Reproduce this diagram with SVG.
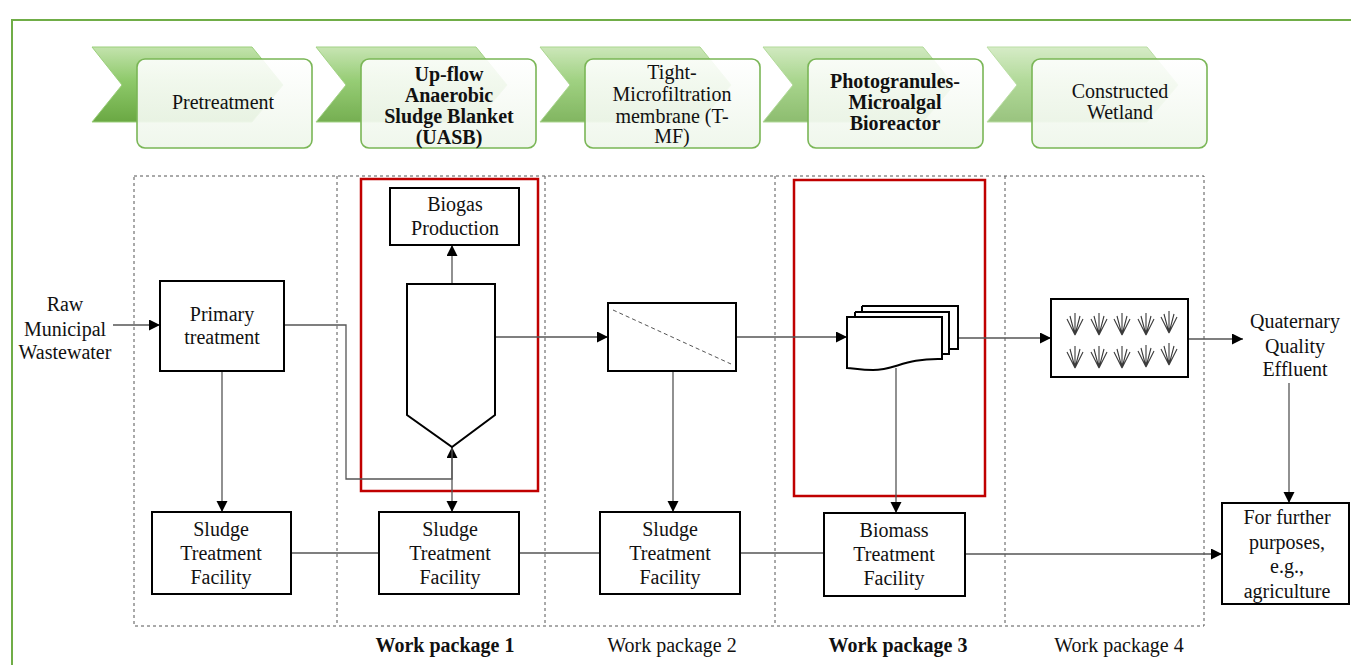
<svg xmlns="http://www.w3.org/2000/svg" width="1351" height="665" viewBox="0 0 1351 665" font-family="'Liberation Serif','Times New Roman',serif">
<defs>
<linearGradient id="chev" x1="0" y1="0" x2="0" y2="1">
<stop offset="0" stop-color="#c3e3ad"/>
<stop offset="0.45" stop-color="#8ec96a"/>
<stop offset="1" stop-color="#6aa843"/>
</linearGradient>
<linearGradient id="boxg" x1="0" y1="0" x2="0" y2="1">
<stop offset="0" stop-color="#ffffff" stop-opacity="0.9"/>
<stop offset="1" stop-color="#eef6ea" stop-opacity="0.93"/>
</linearGradient>
<marker id="arr" markerUnits="userSpaceOnUse" markerWidth="12" markerHeight="12" refX="11" refY="5.5" orient="auto">
<path d="M0,0 L11,5.5 L0,11 z" fill="#000"/>
</marker>
<g id="grass" fill="none" stroke="#3a3a3a" stroke-width="1.1">
<path d="M0,0 V-22 M0,0 L-8,-16 M0,0 L-5,-19 M0,0 L8,-16 M0,0 L5,-19"/>
</g>
</defs>
<style>
text{font-family:"Liberation Serif","Times New Roman",serif;font-size:20px;fill:#111;text-anchor:middle}
.b{font-weight:bold}
.box{fill:#fff;stroke:#000;stroke-width:2}
.stage{fill:url(#boxg);stroke:#7ab656;stroke-width:1.6}
.chev{fill:url(#chev);stroke:#9bcf7b;stroke-width:1}
.dash{fill:none;stroke:#555;stroke-width:1;stroke-dasharray:3,3}
.red{fill:none;stroke:#c00000;stroke-width:2.5}
.con{fill:none;stroke:#555;stroke-width:1.3}
.arr{marker-end:url(#arr)}
</style>

<!-- frame -->
<path d="M12,665 V20 H1351" fill="none" stroke="#70ad47" stroke-width="2"/>

<!-- stage chevrons -->
<g id="stage1">
<polygon class="chev" points="92,47 252,47 283,85 252,122 92,122 122,85"/>
<rect class="stage" x="137" y="59" width="175" height="89" rx="8"/>
<text x="223" y="109">Pretreatment</text>
</g>
<g id="stage2">
<polygon class="chev" opacity="0.92" points="316,47 476,47 507,85 476,122 316,122 346,85"/>
<rect class="stage" x="361" y="59" width="175" height="89" rx="8"/>
<text class="b" x="449" y="81">Up-flow</text>
<text class="b" x="449" y="102">Anaerobic</text>
<text class="b" x="449" y="123">Sludge Blanket</text>
<text class="b" x="449" y="144">(UASB)</text>
</g>
<g id="stage3">
<polygon class="chev" opacity="0.84" points="540,47 700,47 731,85 700,122 540,122 570,85"/>
<rect class="stage" x="585" y="59" width="175" height="89" rx="8"/>
<text x="672" y="79">Tight-</text>
<text x="672" y="101">Microfiltration</text>
<text x="672" y="123">membrane (T-</text>
<text x="672" y="143">MF)</text>
</g>
<g id="stage4">
<polygon class="chev" opacity="0.76" points="763,47 923,47 954,85 923,122 763,122 793,85"/>
<rect class="stage" x="808" y="59" width="175" height="89" rx="8"/>
<text class="b" x="895" y="88">Photogranules-</text>
<text class="b" x="895" y="109">Microalgal</text>
<text class="b" x="895" y="130">Bioreactor</text>
</g>
<g id="stage5">
<polygon class="chev" opacity="0.68" points="987,47 1147,47 1178,85 1147,122 987,122 1017,85"/>
<rect class="stage" x="1032" y="59" width="175" height="89" rx="8"/>
<text x="1120" y="98">Constructed</text>
<text x="1120" y="119">Wetland</text>
</g>

<!-- work package frames -->
<g id="packages">
<rect class="dash" x="134" y="176" width="1070" height="450"/>
<line class="dash" x1="337" y1="176" x2="337" y2="626"/>
<line class="dash" x1="545" y1="176" x2="545" y2="626"/>
<line class="dash" x1="775" y1="176" x2="775" y2="626"/>
<line class="dash" x1="1005" y1="176" x2="1005" y2="626"/>
<text class="b" x="445" y="652">Work package 1</text>
<text x="672" y="652">Work package 2</text>
<text class="b" x="898" y="652">Work package 3</text>
<text x="1119" y="652">Work package 4</text>
</g>

<!-- red highlight boxes -->
<rect class="red" x="361" y="179" width="177" height="312"/>
<rect class="red" x="794" y="180" width="191" height="316"/>

<!-- connectors -->
<g id="connectors">
<path class="con arr" d="M113,325 H160"/>
<path class="con arr" d="M284,325 H346 V479 H452 V447"/>
<path class="con arr" d="M452,447 V512"/>
<path class="con arr" d="M452,284 V245"/>
<path class="con arr" d="M495,337 H608"/>
<path class="con arr" d="M736,337 H847"/>
<path class="con arr" d="M958,338 H1051"/>
<path class="con arr" d="M1188,339 H1243"/>
<path class="con arr" d="M1289,383 V503"/>
<path class="con arr" d="M222,371 V512"/>
<path class="con arr" d="M673,371 V512"/>
<path class="con arr" d="M896,368 V513"/>
<path class="con" d="M291,553 H379"/>
<path class="con" d="M519,553 H600"/>
<path class="con" d="M740,553 H824"/>
<path class="con arr" d="M965,554 H1222"/>
</g>

<!-- nodes -->
<g id="raw">
<text x="65" y="311">Raw</text>
<text x="65" y="336">Municipal</text>
<text x="65" y="359">Wastewater</text>
</g>
<g id="primary">
<rect class="box" x="160" y="281" width="124" height="90"/>
<text x="222" y="321">Primary</text>
<text x="222" y="344">treatment</text>
</g>
<g id="biogas">
<rect class="box" x="390" y="188" width="129" height="57"/>
<text x="455" y="211">Biogas</text>
<text x="455" y="235">Production</text>
</g>
<g id="uasb">
<path d="M407,284 H495 V415 L452,447 L407,415 Z" fill="#fff" stroke="#000" stroke-width="2"/>
</g>
<g id="filter">
<rect class="box" x="608" y="303" width="128" height="68"/>
<line x1="613" y1="310" x2="731" y2="364" stroke="#555" stroke-width="1" stroke-dasharray="4,3"/>
</g>
<g id="photobioreactor">
<path d="M862,306 H958 V349 H949" fill="#fff" stroke="#000" stroke-width="2"/>
<path d="M862,306 V312" fill="none" stroke="#000" stroke-width="2"/>
<path d="M855,312 H949 V354 H942 M855,312 V317" fill="#fff" stroke="#000" stroke-width="2"/>
<path d="M847,317 H942 V359 C905,358 895,370 873,370 C860,370 853,368 847,368 Z" fill="#fff" stroke="#000" stroke-width="2"/>
</g>
<g id="wetland">
<rect class="box" x="1051" y="299" width="137" height="78"/>
<use href="#grass" x="1075" y="335"/>
<use href="#grass" x="1099" y="335"/>
<use href="#grass" x="1122" y="335"/>
<use href="#grass" x="1146" y="335"/>
<use href="#grass" x="1169" y="333"/>
<use href="#grass" x="1075" y="368"/>
<use href="#grass" x="1099" y="368"/>
<use href="#grass" x="1122" y="368"/>
<use href="#grass" x="1146" y="367"/>
<use href="#grass" x="1169" y="365"/>
</g>
<g id="effluent">
<text x="1295" y="328">Quaternary</text>
<text x="1295" y="353">Quality</text>
<text x="1295" y="376">Effluent</text>
</g>
<g id="further">
<rect class="box" x="1222" y="503" width="127" height="101"/>
<text x="1287" y="524">For further</text>
<text x="1287" y="549">purposes,</text>
<text x="1287" y="573">e.g.,</text>
<text x="1287" y="598">agriculture</text>
</g>
<g id="sludge1">
<rect class="box" x="152" y="512" width="139" height="82"/>
<text x="221" y="536">Sludge</text>
<text x="221" y="560">Treatment</text>
<text x="221" y="584">Facility</text>
</g>
<g id="sludge2">
<rect class="box" x="379" y="512" width="140" height="82"/>
<text x="450" y="536">Sludge</text>
<text x="450" y="560">Treatment</text>
<text x="450" y="584">Facility</text>
</g>
<g id="sludge3">
<rect class="box" x="600" y="512" width="140" height="82"/>
<text x="670" y="536">Sludge</text>
<text x="670" y="560">Treatment</text>
<text x="670" y="584">Facility</text>
</g>
<g id="biomass">
<rect class="box" x="824" y="513" width="141" height="83"/>
<text x="894" y="537">Biomass</text>
<text x="894" y="561">Treatment</text>
<text x="894" y="585">Facility</text>
</g>
</svg>
